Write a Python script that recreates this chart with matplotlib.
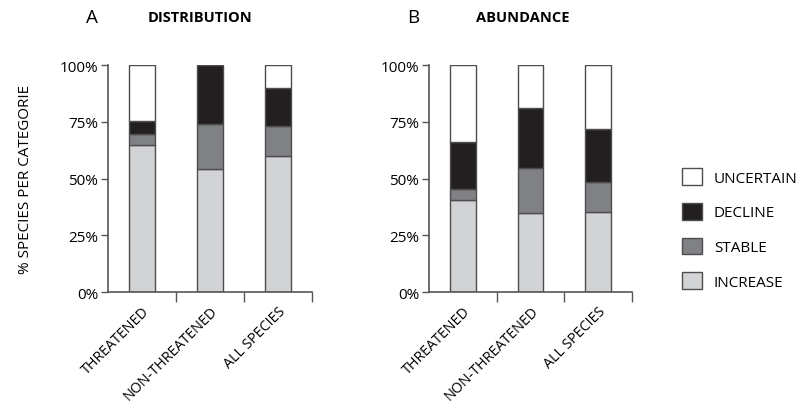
import matplotlib
matplotlib.use('Agg')
import matplotlib.pyplot as plt
import numpy as np

plt.rcParams['font.family'] = ['Open Sans', 'DejaVu Sans']

groups = ['THREATENED', 'NON-THREATENED', 'ALL SPECIES']
trends = ['INCREASE', 'STABLE', 'DECLINE', 'UNCERTAIN']
colors = ['#d2d3d5', '#808184', '#231f20', '#ffffff']

# cumulative tops (%) per trend, read per group
dist_top = {'INCREASE': [65, 54, 60],
            'STABLE': [69.5, 74, 73],
            'DECLINE': [75.5, 100, 90],
            'UNCERTAIN': [100, 100, 100]}
abun_top = {'INCREASE': [40.5, 35, 35.5],
            'STABLE': [45.5, 54.5, 48.5],
            'DECLINE': [66, 81, 72],
            'UNCERTAIN': [100, 100, 100]}

fig = plt.figure(figsize=(8.05, 4.10), dpi=100)
axA = fig.add_axes([0.134, 0.285, 0.2534, 0.554])
axB = fig.add_axes([0.533, 0.285, 0.2522, 0.554])

edge = '#4d4d4f'
x = np.arange(len(groups))
handles = []
for ax, tops, letter, title, tx in [(axA, dist_top, 'A', 'DISTRIBUTION', 0.45),
                                    (axB, abun_top, 'B', 'ABUNDANCE', 0.46)]:
    bottom = np.zeros(len(groups))
    handles = []
    for t, c in zip(trends, colors):
        top = np.array(tops[t], dtype=float)
        b = ax.bar(x, top - bottom, bottom=bottom, width=0.38, color=c,
                   edgecolor=edge, linewidth=1.0, label=t)
        handles.append(b)
        bottom = top
    ax.set_xlim(-0.5, 2.5)
    ax.set_ylim(0, 100)
    ax.set_yticks([0, 25, 50, 75, 100])
    ax.set_yticklabels(['0%', '25%', '50%', '75%', '100%'], fontsize=11)
    ax.set_xticks([0.5, 1.5, 2.5])
    ax.set_xticklabels([])
    ax.set_xticks(x, minor=True)
    ax.set_xticklabels(groups, minor=True, rotation=45, ha='right',
                       rotation_mode='anchor', fontsize=10.3)
    ax.tick_params(axis='x', which='minor', length=0, pad=8)
    ax.tick_params(axis='x', which='major', length=7, color='#555555', width=1)
    ax.tick_params(axis='y', length=5, color='#555555', width=1, pad=2)
    for s in ['top', 'right']:
        ax.spines[s].set_visible(False)
    for s in ['left', 'bottom']:
        ax.spines[s].set_color('#555555')
        ax.spines[s].set_linewidth(1.2)
    ax.text(-0.08, 1.21, letter, transform=ax.transAxes, fontsize=13.5,
            ha='center', va='center')
    ax.text(tx, 1.21, title, transform=ax.transAxes, fontsize=10.5,
            fontweight='bold', ha='center', va='center')

axA.set_ylabel('% SPECIES PER CATEGORIE', fontsize=11, labelpad=19)

fig.legend(handles[::-1], trends[::-1], loc='center left',
           bbox_to_anchor=(0.83, 0.439), frameon=False, fontsize=11,
           handlelength=1.3, handleheight=1.3, labelspacing=1.12,
           handletextpad=0.8)

fig.savefig('out.png', dpi=100)
